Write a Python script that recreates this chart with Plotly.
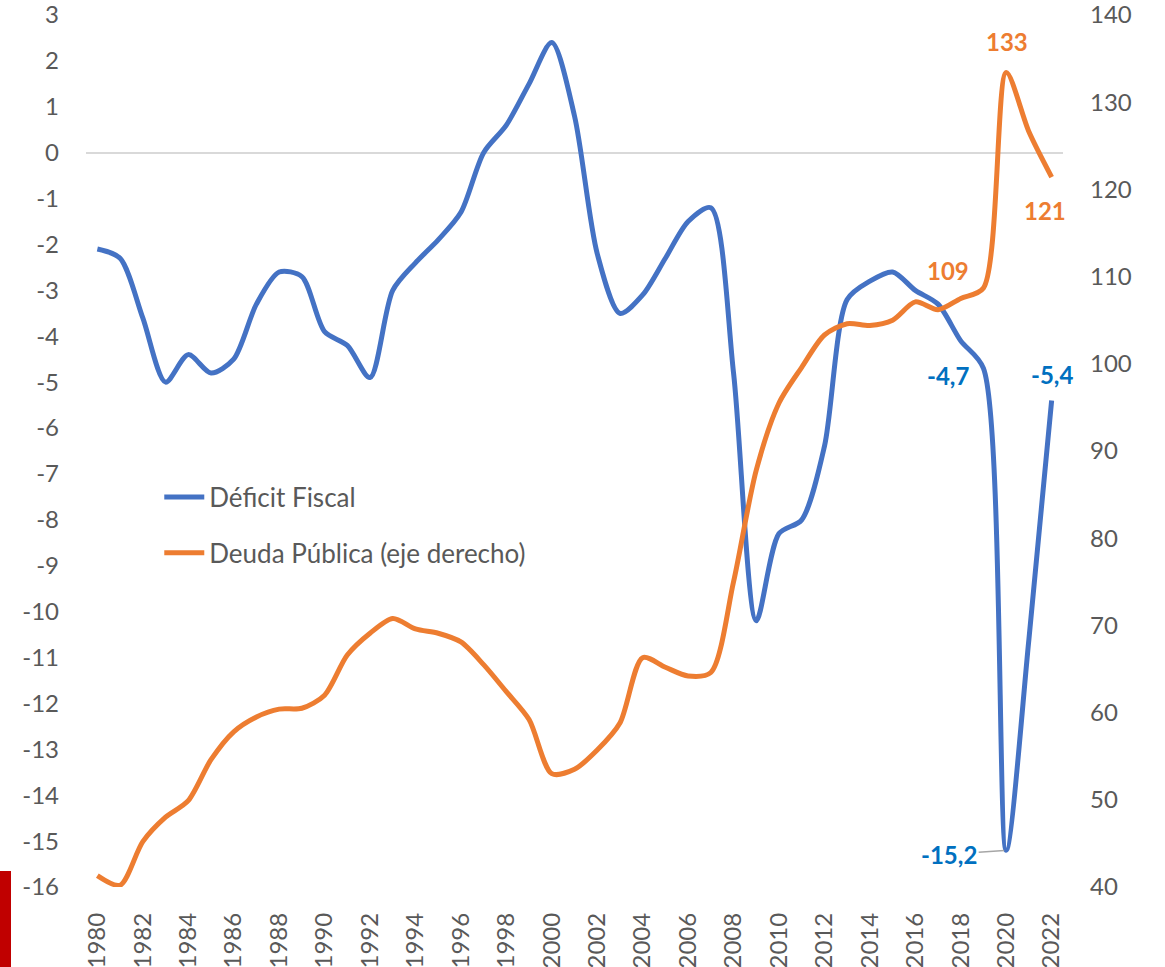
import plotly.graph_objects as go

years = list(range(1980, 2023))
deficit = [-2.1, -2.3, -3.6, -5.0, -4.4, -4.8, -4.5, -3.3, -2.6, -2.7,
           -3.9, -4.2, -4.9, -3.0, -2.4, -1.9, -1.3, 0.0, 0.6, 1.5,
           2.4, 0.8, -2.2, -3.5, -3.1, -2.3, -1.5, -1.2, -4.8, -10.2,
           -8.3, -8.0, -6.4, -3.2, -2.8, -2.6, -3.0, -3.3, -4.1, -4.7,
           -15.2, -10.6, -5.4]
debt = [41.3, 40.2, 45.2, 48.0, 49.9, 54.6, 57.8, 59.5, 60.4, 60.5,
        62.0, 66.6, 69.1, 70.8, 69.6, 69.1, 68.1, 65.5, 62.4, 59.2,
        53.0, 53.5, 55.7, 58.8, 66.3, 65.2, 64.2, 64.6, 75.0, 87.8,
        95.5, 99.6, 103.3, 104.6, 104.4, 105.0, 107.1, 106.2, 107.5, 108.7,
        133.4, 126.6, 121.4]
x_ticks = list(range(1980, 2023, 2))
left_ticks = list(range(-16, 4))
right_ticks = list(range(40, 141, 10))

BLUE = "#4472C4"
ORANGE = "#ED7D31"
LBLUE = "#0070C0"
GREY = "#595959"
FONT = "Lato"

fig = go.Figure()
fig.add_trace(go.Scatter(x=years, y=deficit, name="Déficit Fiscal", mode="lines",
                         line=dict(color=BLUE, width=5, shape="spline", smoothing=0.8),
                         legendgroup="a"))
fig.add_trace(go.Scatter(x=years, y=debt, name="Deuda Pública (eje derecho)", mode="lines",
                         line=dict(color=ORANGE, width=5, shape="spline", smoothing=0.8),
                         yaxis="y2", legendgroup="b"))

def dlab(v):
    return f"{v:.1f}".replace(".", ",")

iy = {y: i for i, y in enumerate(years)}
ann = []
# debt labels
ann.append(dict(x=2020, y=debt[iy[2020]], yref="y2", text=f"{debt[iy[2020]]:.0f}",
                showarrow=False, xanchor="center", yanchor="middle", yshift=31, xshift=1,
                font=dict(color=ORANGE, size=24, family=FONT, weight="bold")))
ann.append(dict(x=2022, y=debt[iy[2022]], yref="y2", text=f"{debt[iy[2022]]:.0f}",
                showarrow=False, xanchor="center", yanchor="middle", yshift=-33, xshift=-7,
                font=dict(color=ORANGE, size=24, family=FONT, weight="bold")))
ann.append(dict(x=2019, y=debt[iy[2019]], yref="y2", text=f"{debt[iy[2019]]:.0f}",
                showarrow=False, xanchor="center", yanchor="middle", yshift=17, xshift=-35,
                font=dict(color=ORANGE, size=24, family=FONT, weight="bold")))
# deficit labels
ann.append(dict(x=2019, y=deficit[iy[2019]], yref="y", text=dlab(deficit[iy[2019]]),
                showarrow=False, xanchor="center", yanchor="middle", yshift=-7, xshift=-35,
                font=dict(color=LBLUE, size=24, family=FONT, weight="bold")))
ann.append(dict(x=2022, y=deficit[iy[2022]], yref="y", text=dlab(deficit[iy[2022]]),
                showarrow=False, xanchor="center", yanchor="middle", yshift=26, xshift=0,
                font=dict(color=LBLUE, size=24, family=FONT, weight="bold")))
ann.append(dict(x=2020, y=deficit[iy[2020]], yref="y", text=dlab(deficit[iy[2020]]),
                showarrow=True, arrowhead=0, arrowwidth=1.5, arrowcolor="#A6A6A6",
                ax=-57, ay=4, standoff=2,
                font=dict(color=LBLUE, size=24, family=FONT, weight="bold")))

fig.update_layout(
    width=1165, height=967,
    margin=dict(l=86, r=102, t=15, b=80, autoexpand=False),
    paper_bgcolor="white", plot_bgcolor="white",
    font=dict(family=FONT, size=24, color=GREY),
    showlegend=True,
    legend=dict(x=0.075, y=0.474, xanchor="left", yanchor="top",
                bgcolor="rgba(0,0,0,0)", font=dict(size=26, color=GREY, family=FONT),
                tracegroupgap=19, itemwidth=40),
    xaxis=dict(range=[1979.5, 2022.5], tickmode="array", tickvals=x_ticks,
               ticktext=[str(t) for t in x_ticks], tickangle=-90,
               showgrid=False, zeroline=False, showline=False, ticks="",
               ticklabelstandoff=20, ticklabeloverflow="allow",
               tickfont=dict(size=24, color=GREY, family=FONT)),
    yaxis=dict(range=[-16, 3], tickmode="array", tickvals=left_ticks,
               ticktext=[str(t) for t in left_ticks],
               showgrid=False, zeroline=True, zerolinecolor="#D9D9D9", zerolinewidth=2,
               showline=False, ticks="", ticklabelstandoff=26, ticklabeloverflow="allow",
               tickfont=dict(size=24, color=GREY, family=FONT)),
    yaxis2=dict(range=[40, 140], tickmode="array", tickvals=right_ticks,
                ticktext=[str(t) for t in right_ticks],
                overlaying="y", side="right",
                showgrid=False, zeroline=False, showline=False, ticks="",
                ticklabelstandoff=26, ticklabeloverflow="allow",
                tickfont=dict(size=24, color=GREY, family=FONT)),
    annotations=ann,
    shapes=[dict(type="rect", xref="paper", yref="paper",
                 x0=-86/977, x1=(11-86)/977, y0=-80/872, y1=(887-871)/872,
                 fillcolor="#C00000", line=dict(width=0), layer="above")],
)

fig.write_html("out.html", config={"displayModeBar": False},
               post_script="document.body.style.margin='0px';")
